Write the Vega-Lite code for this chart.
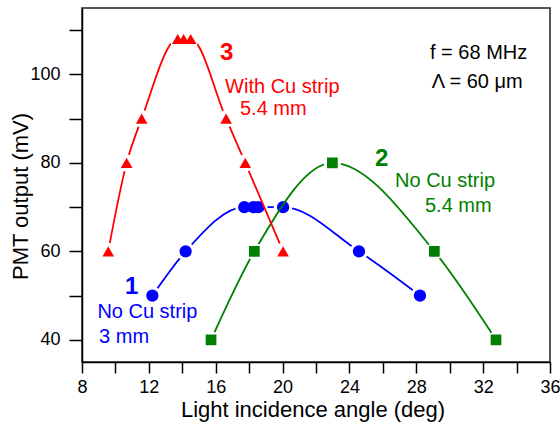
{
  "$schema": "https://vega.github.io/schema/vega-lite/v6.json",
  "width": 468,
  "height": 354,
  "autosize": {"type": "none"},
  "padding": {"left": 82, "top": 8, "right": 10, "bottom": 63},
  "background": "white",
  "config": {
    "font": "Liberation Sans",
    "view": {"stroke": "#222", "strokeWidth": 1.5},
    "axis": {
      "grid": false,
      "domainColor": "#000",
      "domainWidth": 1.5,
      "tickColor": "#000",
      "tickWidth": 1.5,
      "labelColor": "#000",
      "labelFont": "Liberation Sans",
      "labelFontSize": 18,
      "titleFont": "Liberation Sans",
      "titleFontSize": 22,
      "titleFontWeight": "normal",
      "titleColor": "#000",
      "labelFlush": false,
      "labelOverlap": false
    }
  },
  "datasets": {
    "pts": [
      {"s": "1", "x": 12.21, "y": 50},
      {"s": "1", "x": 14.2, "y": 60},
      {"s": "1", "x": 17.71, "y": 70},
      {"s": "1", "x": 18.25, "y": 70},
      {"s": "1", "x": 18.55, "y": 70},
      {"s": "1", "x": 20.03, "y": 70},
      {"s": "1", "x": 24.57, "y": 60},
      {"s": "1", "x": 28.22, "y": 50},
      {"s": "2", "x": 15.72, "y": 40},
      {"s": "2", "x": 18.31, "y": 60},
      {"s": "2", "x": 22.98, "y": 80},
      {"s": "2", "x": 29.08, "y": 60},
      {"s": "2", "x": 32.77, "y": 40},
      {"s": "3", "x": 9.57, "y": 60},
      {"s": "3", "x": 10.67, "y": 80},
      {"s": "3", "x": 11.57, "y": 90},
      {"s": "3", "x": 13.73, "y": 108},
      {"s": "3", "x": 14.08, "y": 108},
      {"s": "3", "x": 14.5, "y": 108},
      {"s": "3", "x": 16.62, "y": 90},
      {"s": "3", "x": 17.77, "y": 80},
      {"s": "3", "x": 20.03, "y": 60}
    ],
    "ann": [
      {"s": "3", "t": "With Cu strip", "x": 16.56, "y": 95.9},
      {"s": "3", "t": "5.4 mm", "x": 17.45, "y": 90.85},
      {"s": "2", "t": "No Cu strip", "x": 26.73, "y": 74.65},
      {"s": "2", "t": "5.4 mm", "x": 28.52, "y": 68.8},
      {"s": "1", "t": "No Cu strip", "x": 8.92, "y": 45.0},
      {"s": "1", "t": "3 mm", "x": 9.02, "y": 39.25},
      {"s": "k", "t": "f = 68 MHz", "x": 28.82, "y": 103.4},
      {"s": "k", "t": "Λ = 60 μm", "x": 28.92, "y": 96.9}
    ],
    "num": [
      {"s": "3", "t": "3", "x": 16.66, "y": 103.3},
      {"s": "1", "t": "1", "x": 10.97, "y": 50.4},
      {"s": "2", "t": "2", "x": 25.93, "y": 79.3}
    ]
  },
  "encoding": {
    "x": {
      "field": "x",
      "type": "quantitative",
      "scale": {"domain": [8, 36], "nice": false, "zero": false},
      "axis": {
        "title": "Light incidence angle (deg)",
        "values": [8, 10, 12, 14, 16, 18, 20, 22, 24, 26, 28, 30, 32, 34, 36],
        "labelExpr": "datum.value % 4 === 0 ? datum.label : ''",
        "tickSize": 11,
        "labelPadding": 5,
        "titleX": 230.5,
        "titleY": 54,
        "titleBaseline": "alphabetic",
        "encode": {"ticks": {"update": {"y2": [{"test": "datum.value % 4 !== 0", "value": 7}, {"value": 11}]}}}
      }
    },
    "y": {
      "field": "y",
      "type": "quantitative",
      "scale": {"domain": [35, 115], "nice": false, "zero": false},
      "axis": {
        "title": "PMT output (mV)",
        "values": [40, 50, 60, 70, 80, 90, 100, 110],
        "labelExpr": "datum.value % 20 === 0 ? datum.label : ''",
        "tickSize": 13,
        "labelPadding": 9,
        "titleX": -55,
        "titleY": 188,
        "titleBaseline": "alphabetic",
        "encode": {"ticks": {"update": {"x2": [{"test": "datum.value % 20 !== 0", "value": -7}, {"value": -13}]}}}
      }
    }
  },
  "layer": [
    {"data": {"name": "pts"}, "transform": [{"filter": "datum.s === '1'"}],
     "mark": {"type": "line", "interpolate": "monotone", "color": "#0000ff", "strokeWidth": 1.8}},
    {"data": {"name": "pts"}, "transform": [{"filter": "datum.s === '1'"}],
     "mark": {"type": "point", "shape": "circle", "filled": true, "color": "white", "opacity": 1, "size": 340, "strokeWidth": 0}},
    {"data": {"name": "pts"}, "transform": [{"filter": "datum.s === '1'"}],
     "mark": {"type": "point", "shape": "circle", "filled": true, "color": "#0000ff", "opacity": 1, "size": 150, "strokeWidth": 0}},
    {"data": {"name": "pts"}, "transform": [{"filter": "datum.s === '2'"}],
     "mark": {"type": "line", "interpolate": "monotone", "color": "#008000", "strokeWidth": 1.8}},
    {"data": {"name": "pts"}, "transform": [{"filter": "datum.s === '2'"}],
     "mark": {"type": "point", "shape": "circle", "filled": true, "color": "white", "opacity": 1, "size": 300, "strokeWidth": 0}},
    {"data": {"name": "pts"}, "transform": [{"filter": "datum.s === '2'"}],
     "mark": {"type": "point", "shape": "square", "filled": true, "color": "#008000", "opacity": 1, "size": 115, "strokeWidth": 0}},
    {"data": {"name": "pts"}, "transform": [{"filter": "datum.s === '3'"}],
     "mark": {"type": "line", "interpolate": "monotone", "color": "#ff0000", "strokeWidth": 1.8}},
    {"data": {"name": "pts"}, "transform": [{"filter": "datum.s === '3'"}],
     "mark": {"type": "point", "shape": "circle", "filled": true, "color": "white", "opacity": 1, "size": 300, "strokeWidth": 0}},
    {"data": {"name": "pts"}, "transform": [{"filter": "datum.s === '3'"}],
     "mark": {"type": "point", "shape": "triangle-up", "filled": true, "color": "#ff0000", "opacity": 1, "size": 135, "strokeWidth": 0}},
    {"data": {"name": "ann"},
     "mark": {"type": "text", "fontSize": 20, "align": "left", "baseline": "alphabetic", "font": "Liberation Sans"},
     "encoding": {
       "text": {"field": "t"},
       "color": {"field": "s", "type": "nominal", "scale": {"domain": ["1", "2", "3", "k"], "range": ["#0000ff", "#008000", "#ff0000", "#000000"]}, "legend": null}
     }},
    {"data": {"name": "num"},
     "mark": {"type": "text", "fontSize": 24, "fontWeight": "bold", "align": "center", "baseline": "alphabetic", "font": "Liberation Sans"},
     "encoding": {
       "text": {"field": "t"},
       "color": {"field": "s", "type": "nominal", "scale": {"domain": ["1", "2", "3", "k"], "range": ["#0000ff", "#008000", "#ff0000", "#000000"]}, "legend": null}
     }}
  ]
}
